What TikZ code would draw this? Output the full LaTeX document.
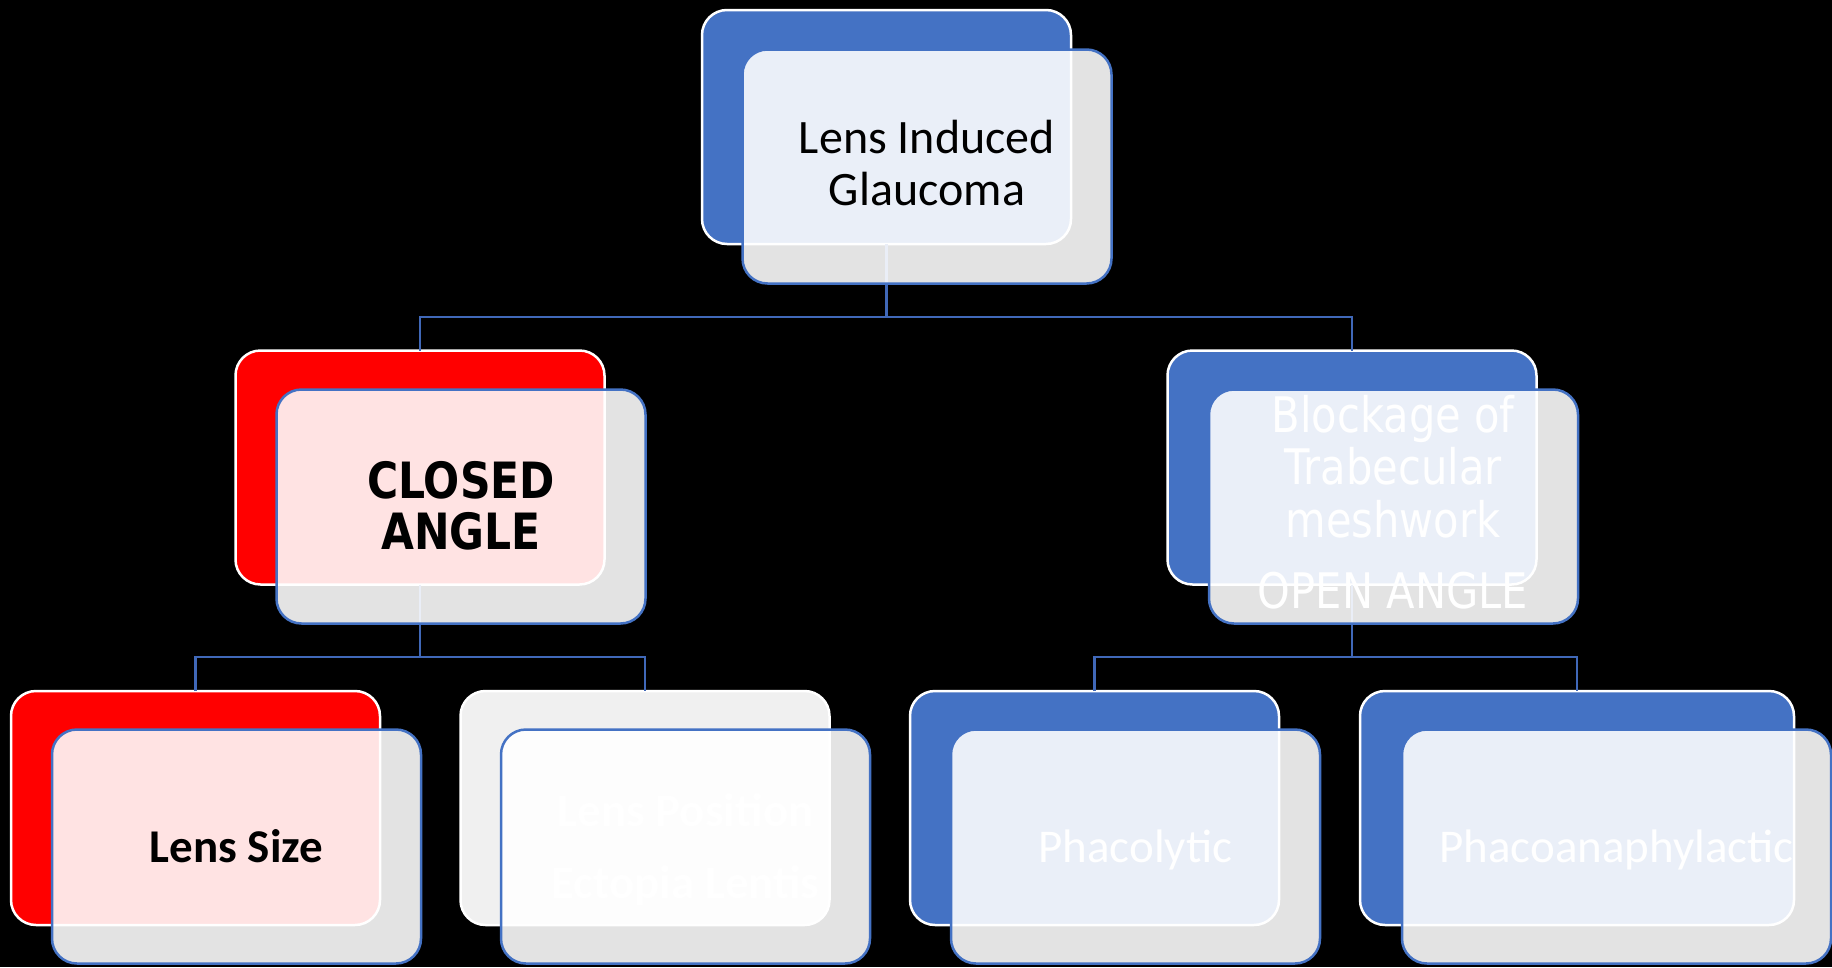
\documentclass[tikz,border=0pt]{standalone}
\usepackage{fontspec}
\setmainfont{Carlito}
\newfontfamily\tahoma[FakeStretch=0.85]{DejaVu Sans}
\definecolor{sablue}{HTML}{4472C4}
\definecolor{connblue}{HTML}{4068B8}
\definecolor{backgray}{HTML}{F0F0F0}
\begin{document}
\begin{tikzpicture}[x=1pt,y=-1pt,
  back/.style={draw=white, line width=2.5pt, rounded corners=25pt, minimum width=369pt, minimum height=234pt, inner sep=0pt, outer sep=0pt},
  front/.style={draw=sablue, line width=2.5pt, fill=white, fill opacity=0.89, rounded corners=25pt, minimum width=369pt, minimum height=234pt, inner sep=0pt, outer sep=0pt},
  conn/.style={draw=connblue, line width=2.5pt},
  lbl/.style={align=center, inner sep=0pt, outer sep=0pt, text opacity=1}
]
\useasboundingbox (0,0) rectangle (1832,967);
\fill[black] (0,0) rectangle (1832,967);

% back boxes
\node[back, fill=sablue] (b0) at (886.5,127) {};
\node[back, fill=red] (b1) at (420,467.5) {};
\node[back, fill=sablue] (b2) at (1352,467.5) {};
\node[back, fill=red] (b3) at (195.5,808) {};
\node[back, fill=backgray] (b4) at (645,808) {};
\node[back, fill=sablue] (b5) at (1094.5,808) {};
\node[back, fill=sablue, minimum width=434pt] (b6) at (1577,808) {};

% connectors
\coordinate (j0) at (886.5,317);
\coordinate (j1) at (420,657);
\coordinate (j2) at (1352,657);
\draw[conn] (b0.south) -- (j0);
\draw[conn] (b1.north) |- (j0) -| (b2.north);
\draw[conn] (b1.south) -- (j1);
\draw[conn] (b3.north) |- (j1) -| (b4.north);
\draw[conn] (b2.south) -- (j2);
\draw[conn] (b5.north) |- (j2) -| (b6.north);

% front boxes
\node[front] (f0) at (927,166.5) {};
\node[front] (f1) at (461,506.5) {};
\node[front] (f2) at (1393.5,506.5) {};
\node[front] (f3) at (236.5,846.5) {};
\node[front] (f4) at (685.5,846.5) {};
\node[front] (f5) at (1135.5,846.5) {};
\node[front, minimum width=429pt] (f6) at (1616.5,846.5) {};

% labels
\node[lbl, font=\fontsize{48}{52}\selectfont] (t0) at (927,163.5) {Lens Induced\\Glaucoma};
\node[lbl, font=\tahoma\bfseries\fontsize{50}{51}\selectfont] (t1) at (461,505.5) {CLOSED\\ANGLE};
\node[lbl, text=white, font=\tahoma\fontsize{49}{52.5}\selectfont] (t2) at (1393,502) {Blockage of\\Trabecular\\meshwork\\[18.5pt]OPEN ANGLE};
\node[lbl, anchor=base, font=\bfseries\fontsize{47}{56}\selectfont] (t3) at (236.5,862) {Lens Size};
\node[lbl, text=white, font=\bfseries\fontsize{47}{72}\selectfont] (t4) at (685.5,850) {Lens Position\\Ectopia Lentis};
\node[lbl, anchor=base, text=white, font=\fontsize{47}{56}\selectfont] (t5) at (1135.5,862) {Phacolytic};
\node[lbl, anchor=base, text=white, font=\fontsize{47}{56}\selectfont] (t6) at (1616.5,862) {Phacoanaphylactic};
\end{tikzpicture}
\end{document}
